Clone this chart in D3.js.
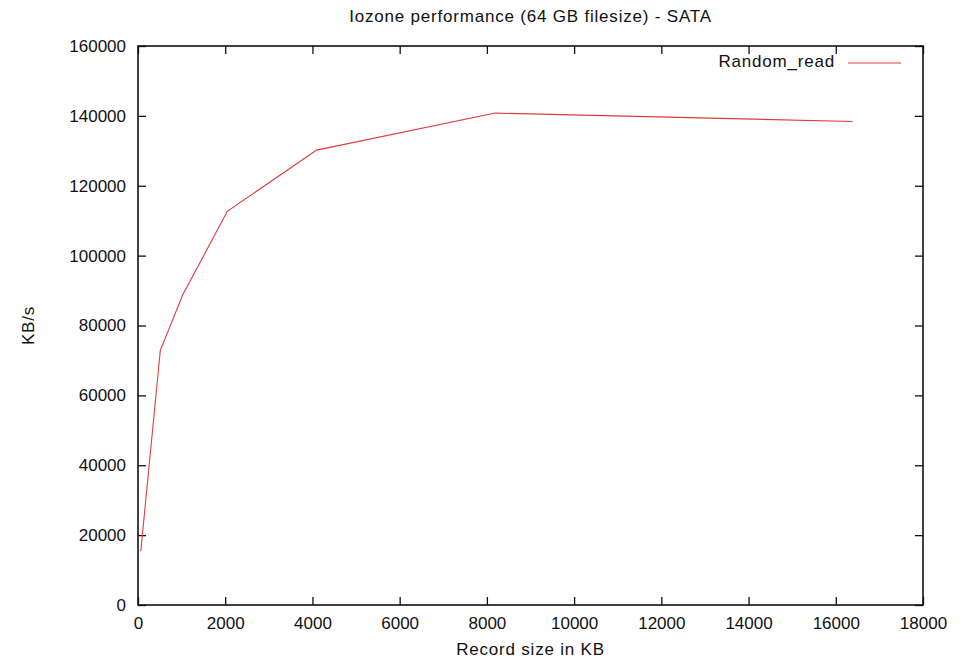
<!DOCTYPE html>
<html>
<head>
<meta charset="utf-8">
<script src="https://cdn.jsdelivr.net/npm/d3@7"></script>
<style>
  body { margin: 0; background: #fff; }
  text { font-family: "Liberation Sans", Arial, sans-serif; fill: #111; }
</style>
</head>
<body>
<div id="chart"></div>
<script>
// Data
const recordSizes = [64, 512, 1024, 2048, 4096, 8192, 16384];
const randomRead = [15400, 72900, 88700, 112700, 130200, 140800, 138400];
const xTicks = [0, 2000, 4000, 6000, 8000, 10000, 12000, 14000, 16000, 18000];
const yTicks = [0, 20000, 40000, 60000, 80000, 100000, 120000, 140000, 160000];
const seriesName = "Random_read";

const width = 974;
const height = 663;
const margin = { top: 46, right: 51, bottom: 58, left: 138 };

const svg = d3
  .select("#chart")
  .append("svg")
  .attr("width", width)
  .attr("height", height);

const x = d3.scaleLinear().domain([0, 18000]).range([margin.left, width - margin.right]);
const y = d3.scaleLinear().domain([0, 160000]).range([height - margin.bottom, margin.top]);

const tickLen = 8;
const fontSize = "17px";
const labelSpacing = "0.8px";

// Axes: ticks point inward, mirrored on top and right
const fmt = d3.format("d");
const bottomAxis = d3.axisBottom(x).tickValues(xTicks).tickFormat(fmt).tickSizeInner(-tickLen).tickSizeOuter(0).tickPadding(12);
const leftAxis = d3.axisLeft(y).tickValues(yTicks).tickFormat(fmt).tickSizeInner(-tickLen).tickSizeOuter(0).tickPadding(12);
const topAxis = d3.axisTop(x).tickValues(xTicks).tickSizeInner(-tickLen).tickSizeOuter(0).tickFormat("");
const rightAxis = d3.axisRight(y).tickValues(yTicks).tickSizeInner(-tickLen).tickSizeOuter(0).tickFormat("");

function styleAxis(g) {
  g.select(".domain").remove();
  g.selectAll(".tick line").attr("stroke", "#111").attr("stroke-width", 1.3);
  g.selectAll(".tick text").style("font-size", fontSize).style("font-family", "Liberation Sans, Arial, sans-serif").attr("fill", "#111");
}

svg.append("g").attr("transform", `translate(0,${y(0)})`).call(bottomAxis).call(styleAxis);
svg.append("g").attr("transform", `translate(${x(0)},0)`).call(leftAxis).call(styleAxis);
svg.append("g").attr("transform", `translate(0,${y(160000)})`).call(topAxis).call(styleAxis);
svg.append("g").attr("transform", `translate(${x(18000)},0)`).call(rightAxis).call(styleAxis);

// Plot border
svg
  .append("rect")
  .attr("x", x(0))
  .attr("y", y(160000))
  .attr("width", x(18000) - x(0))
  .attr("height", y(0) - y(160000))
  .attr("fill", "none")
  .attr("stroke", "#111")
  .attr("stroke-width", 1.6);

// Series line
const line = d3
  .line()
  .x((d, i) => x(recordSizes[i]))
  .y((d) => y(d));

svg
  .append("path")
  .datum(randomRead)
  .attr("d", line)
  .attr("fill", "none")
  .attr("stroke", "#e03a3a")
  .attr("stroke-width", 1.1);

// Legend
svg
  .append("text")
  .attr("x", 835)
  .attr("y", 63)
  .attr("text-anchor", "end")
  .attr("dominant-baseline", "middle")
  .style("font-size", fontSize)
  .style("letter-spacing", labelSpacing)
  .text(seriesName);

svg
  .append("line")
  .attr("x1", 848)
  .attr("x2", 901)
  .attr("y1", 63)
  .attr("y2", 63)
  .attr("stroke", "#e03a3a")
  .attr("stroke-width", 1.1);

// Title and axis labels
svg
  .append("text")
  .attr("x", (x(0) + x(18000)) / 2)
  .attr("y", 18)
  .attr("text-anchor", "middle")
  .attr("dominant-baseline", "middle")
  .style("font-size", fontSize)
  .style("letter-spacing", labelSpacing)
  .text("Iozone performance (64 GB filesize) - SATA");

svg
  .append("text")
  .attr("x", (x(0) + x(18000)) / 2)
  .attr("y", 651)
  .attr("text-anchor", "middle")
  .attr("dominant-baseline", "middle")
  .style("font-size", fontSize)
  .style("letter-spacing", labelSpacing)
  .text("Record size in KB");

svg
  .append("text")
  .attr("transform", `translate(30,${(y(0) + y(160000)) / 2}) rotate(-90)`)
  .attr("text-anchor", "middle")
  .attr("dominant-baseline", "middle")
  .style("font-size", fontSize)
  .style("letter-spacing", labelSpacing)
  .text("KB/s");
</script>
</body>
</html>
